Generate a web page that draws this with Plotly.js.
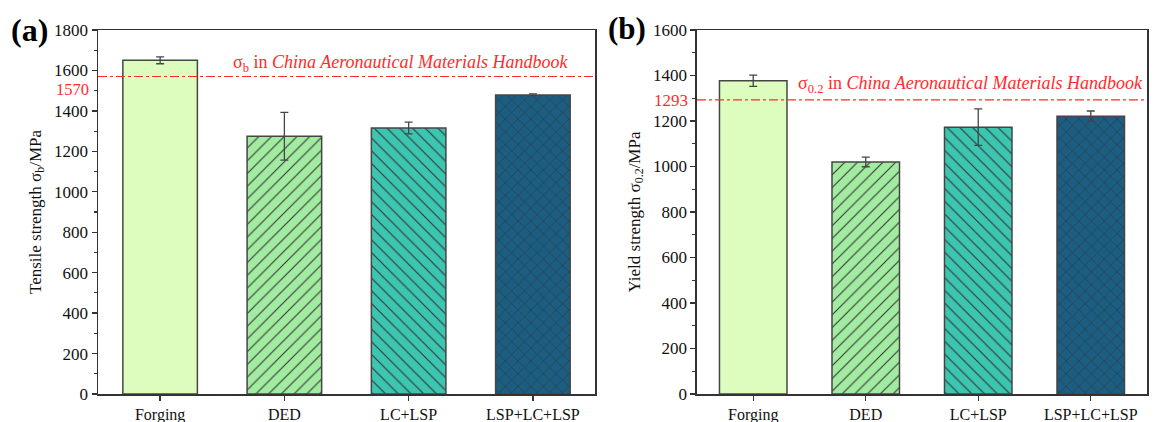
<!DOCTYPE html>
<html>
<head>
<meta charset="utf-8">
<script src="https://cdn.plot.ly/plotly-3.0.1.min.js"></script>
<style>html,body{margin:0;padding:0;background:#fff;}#chart{width:1157px;height:422px;}</style>
</head>
<body>
<div id="chart"></div>
<script>
const categories = ['Forging', 'DED', 'LC+LSP', 'LSP+LC+LSP'];
const tensile = [1650, 1275, 1315, 1479];
const tensileErr = [17, 118, 29, 5];
const yieldStrength = [1377, 1020, 1173, 1221];
const yieldErr = [25, 21, 80, 23];
const tensileRef = 1570;
const yieldRef = 1293;
const barColors = ['#ddfdbf', '#a2eca2', '#3cc5b1', '#1b5e82'];
const barPatterns = ['', '/', '\\', 'x'];
const tickVals = [0, 200, 400, 600, 800, 1000, 1200, 1400, 1600, 1800];

const serif = 'Liberation Serif, Times New Roman, serif';
const red = '#ff2b2b';

function barTraces(vals, errs, xa, ya) {
  return categories.map((c, i) => ({
    type: 'bar', x: [c], y: [vals[i]], xaxis: xa, yaxis: ya, width: 0.6,
    marker: {
      color: barColors[i],
      line: {color: '#454545', width: 1.5},
      pattern: {
        shape: barPatterns[i],
        fgcolor: '#333333',
        fgopacity: 1,
        fillmode: 'overlay',
        size: 9, solidity: 0.12
      }
    },
    error_y: {type: 'data', array: [errs[i]], visible: true, color: '#454545', thickness: 1.3, width: 4},
    showlegend: false, hoverinfo: 'skip'
  }));
}

const data = [
  ...barTraces(tensile, tensileErr, 'x', 'y'),
  ...barTraces(yieldStrength, yieldErr, 'x2', 'y2')
];

function xAx(domain, anchor) {
  return {
    domain: domain, anchor: anchor, type: 'category', range: [-0.5, 3.5],
    categoryorder: 'array', categoryarray: categories,
    showline: true, linecolor: '#333', linewidth: 1.5, mirror: true,
    ticks: 'outside', ticklen: 5, tickcolor: '#333', tickwidth: 1.3,
    tickfont: {family: serif, size: 16, color: '#111'}, showgrid: false, zeroline: false, fixedrange: true
  };
}
function yAx(range, anchor, title, vals) {
  return {
    anchor: anchor, range: range, tickvals: vals,
    showline: true, linecolor: '#333', linewidth: 1.5, mirror: true,
    ticks: 'outside', ticklen: 5, tickcolor: '#333', tickwidth: 1.3,
    minor: {ticks: 'outside', ticklen: 3, dtick: 100, tickcolor: '#333', tickwidth: 1.2, showgrid: false},
    tickfont: {family: serif, size: 17, color: '#111'}, showgrid: false, zeroline: false,
    title: {text: title, font: {family: serif, size: 17, color: '#111'}, standoff: 8}
  };
}

const layout = {
  width: 1157, height: 422,
  margin: {l: 98, r: 10, t: 30, b: 28, pad: 0},
  paper_bgcolor: '#fff', plot_bgcolor: '#fff',
  font: {family: serif},
  barmode: 'overlay',
  xaxis: xAx([0, 0.4738], 'y'),
  yaxis: yAx([0, 1800], 'x', 'Tensile strength σ<sub>b</sub>/MPa', tickVals),
  xaxis2: xAx([0.571, 1], 'y2'),
  yaxis2: yAx([0, 1600], 'x2', 'Yield strength σ<sub>0.2</sub>/MPa', tickVals.slice(0, 9)),
  shapes: [
    {type: 'line', xref: 'x domain', yref: 'y', x0: 0, x1: 1, y0: tensileRef, y1: tensileRef,
     line: {color: red, width: 1.2, dash: 'dashdot'}},
    {type: 'line', xref: 'x2 domain', yref: 'y2', x0: 0, x1: 1, y0: yieldRef, y1: yieldRef,
     line: {color: red, width: 1.2, dash: 'dashdot'}}
  ],
  annotations: [
    {xref: 'paper', yref: 'paper', x: -0.0845, y: 1.0, xanchor: 'left', yanchor: 'middle',
     text: '<b>(a)</b>', showarrow: false, font: {family: serif, size: 32, color: '#000'}},
    {xref: 'paper', yref: 'paper', x: 0.484, y: 1.005, xanchor: 'left', yanchor: 'middle',
     text: '<b>(b)</b>', showarrow: false, font: {family: serif, size: 31, color: '#000'}},
    {xref: 'x domain', yref: 'y', x: 0, y: tensileRef, xanchor: 'right', yanchor: 'middle',
     xshift: -7, yshift: -13, text: String(tensileRef), showarrow: false, font: {family: serif, size: 16.5, color: red}},
    {xref: 'x2 domain', yref: 'y2', x: 0, y: yieldRef, xanchor: 'right', yanchor: 'middle',
     xshift: -7, yshift: -1, text: String(yieldRef), showarrow: false, font: {family: serif, size: 17, color: red}},
    {xref: 'x domain', yref: 'y', x: 0.951, y: tensileRef, xanchor: 'right', yanchor: 'bottom',
     yshift: 0, text: 'σ<sub>b</sub> in <i>China Aeronautical Materials Handbook</i>', showarrow: false,
     font: {family: serif, size: 18, color: red}},
    {xref: 'x2 domain', yref: 'y2', x: 0.995, y: yieldRef, xanchor: 'right', yanchor: 'bottom',
     yshift: 2, text: 'σ<sub>0.2</sub> in <i>China Aeronautical Materials Handbook</i>', showarrow: false,
     font: {family: serif, size: 18, color: red}}
  ]
};

Plotly.newPlot('chart', data, layout, {displayModeBar: false, staticPlot: true});
</script>
</body>
</html>
